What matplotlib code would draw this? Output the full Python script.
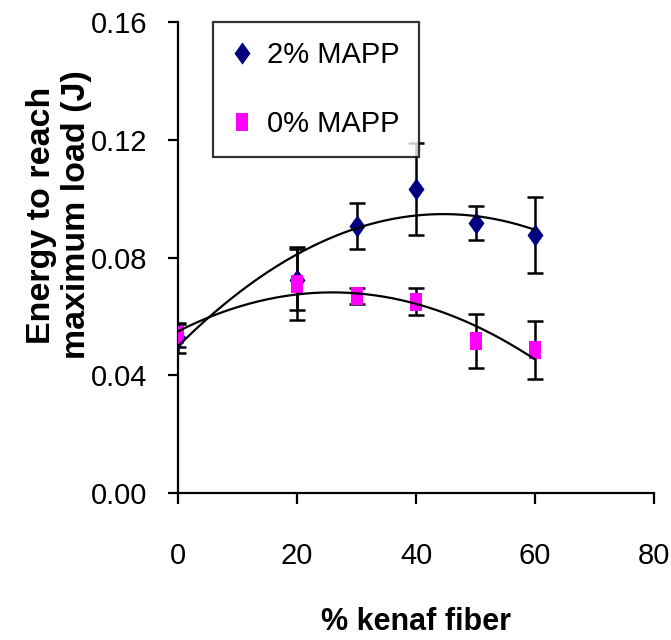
import numpy as np
import matplotlib
matplotlib.use("Agg")
import matplotlib.pyplot as plt
from matplotlib.path import Path

# ---- data ----
fiber = [0, 20, 30, 40, 50, 60]
mapp2 = [0.0525, 0.0725, 0.0908, 0.1033, 0.0918, 0.0877]
mapp2_err = [0.0050, 0.0105, 0.0078, 0.0155, 0.0057, 0.0128]
mapp0 = [0.0536, 0.0711, 0.0669, 0.0649, 0.0516, 0.0485]
mapp0_err = [0.0040, 0.0125, 0.0027, 0.0046, 0.0093, 0.0098]
labels = ["2% MAPP", "0% MAPP"]
xticks = [0, 20, 40, 60, 80]
yticks = [0.00, 0.04, 0.08, 0.12, 0.16]

font = "Liberation Sans"

fig = plt.figure(figsize=(6.71, 6.4), dpi=100)
ax = fig.add_axes([0.2653, 0.2297, 0.7094, 0.7359])

diamond = Path([(0, 1), (0.72, 0), (0, -1), (-0.72, 0), (0, 1)],
               [Path.MOVETO, Path.LINETO, Path.LINETO, Path.LINETO, Path.CLOSEPOLY])
rect = Path([(-0.68, -1), (0.68, -1), (0.68, 1), (-0.68, 1), (-0.68, -1)],
            [Path.MOVETO, Path.LINETO, Path.LINETO, Path.LINETO, Path.CLOSEPOLY])

xs = np.array(fiber, dtype=float)
xf = np.linspace(0, 60, 200)

# error bars
ax.errorbar(fiber, mapp2, yerr=mapp2_err, fmt="none", ecolor="black",
            elinewidth=1.8, capsize=5.5, capthick=1.8, zorder=2)
ax.errorbar(fiber, mapp0, yerr=mapp0_err, fmt="none", ecolor="black",
            elinewidth=1.8, capsize=5.5, capthick=1.8, zorder=2)

# markers
ax.plot(fiber, mapp2, linestyle="none", marker=diamond, markersize=16,
        color="#000080", markeredgewidth=0, label=labels[0], zorder=3)
ax.plot(fiber, mapp0, linestyle="none", marker=rect, markersize=13.5,
        color="#FF00FF", markeredgewidth=0, label=labels[1], zorder=4)

# polynomial trend lines
c2 = np.polyfit(xs, mapp2, 2)
c0 = np.polyfit(xs, mapp0, 2)
ax.plot(xf, np.polyval(c2, xf), color="black", lw=1.6, zorder=5)
ax.plot(xf, np.polyval(c0, xf), color="black", lw=1.6, zorder=5)

ax.set_xlim(0, 80)
ax.set_ylim(0, 0.16)
ax.set_xticks(xticks)
ax.set_yticks(yticks)
ax.set_xticklabels([str(v) for v in xticks], fontfamily=font, fontsize=21)
ax.set_yticklabels([f"{v:.2f}" for v in yticks], fontfamily=font, fontsize=21)
ax.tick_params(axis="x", direction="out", length=8, width=1.6, pad=27)
ax.tick_params(axis="y", direction="out", length=7, width=1.6, pad=15)
for s in ["top", "right"]:
    ax.spines[s].set_visible(False)
for s in ["left", "bottom"]:
    ax.spines[s].set_linewidth(1.6)

fig.text(0.088, 1 - 215 / 640, "Energy to reach\nmaximum load (J)", rotation=90,
         ha="center", va="center", fontsize=24.5, fontweight="bold",
         fontfamily=font, linespacing=1.15)
fig.text(416 / 671, 1 - 622 / 640, "% kenaf fiber", ha="center", va="center",
         fontsize=22, fontweight="bold", fontfamily=font)

leg = ax.legend(loc="upper left", bbox_to_anchor=(0.0735, 1.0), frameon=True,
                fancybox=False, edgecolor="black", prop={"family": font, "size": 21},
                handlelength=0.7, handletextpad=0.5, labelspacing=1.4,
                borderpad=0.65, borderaxespad=0, markerscale=1.0)
leg.get_frame().set_linewidth(1.6)

fig.savefig("out.png", dpi=100)
